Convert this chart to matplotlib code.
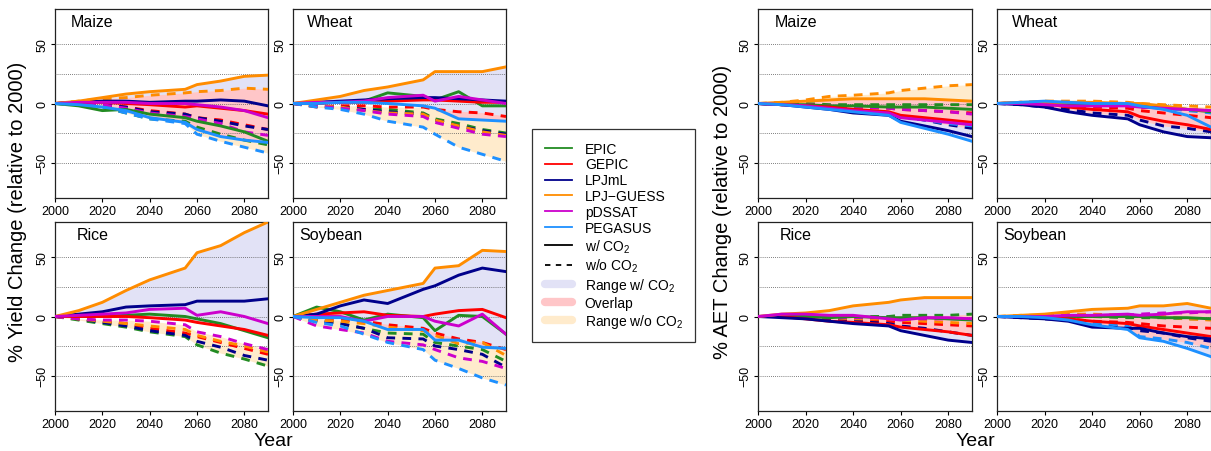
import matplotlib
matplotlib.use('Agg')
import matplotlib.pyplot as plt
from matplotlib.lines import Line2D
import numpy as np

plt.rcParams['font.family'] = ['Liberation Sans', 'DejaVu Sans']
plt.rcParams['mathtext.fontset'] = 'custom'
plt.rcParams['mathtext.rm'] = 'Liberation Sans'
plt.rcParams['mathtext.default'] = 'regular'

years = [2000, 2010, 2020, 2030, 2040, 2055, 2060, 2070, 2080, 2090]
models = ['EPIC', 'GEPIC', 'LPJmL', 'LPJ-GUESS', 'pDSSAT', 'PEGASUS']
colors = {'EPIC': '#228B22', 'GEPIC': '#FF0000', 'LPJmL': '#00008B',
          'LPJ-GUESS': '#FF8C00', 'pDSSAT': '#CC00CC', 'PEGASUS': '#1E90FF'}

# ---- yield, with CO2 / without CO2 ----
yield_maize_w = {
    'EPIC':      [0, -2, -6, -5, -9, -12, -15, -19, -24, -32],
    'GEPIC':     [0, 1, 1, 0, -1, -3, -2, -4, -6, -9],
    'LPJmL':     [0, 1, 2, 2, 1, 2, 2, 3, 2, -2],
    'LPJ-GUESS': [0, 2, 5, 8, 10, 12, 16, 19, 23, 24],
    'pDSSAT':    [0, 1, 1, 1, 0, 0, -1, -3, -6, -12],
    'PEGASUS':   [0, -1, -3, -6, -12, -16, -22, -28, -31, -33]}
yield_maize_wo = {
    'EPIC':      [0, -1, -3, -8, -13, -15, -20, -26, -31, -35],
    'GEPIC':     [0, 0, -1, -3, -6, -9, -12, -14, -18, -22],
    'LPJmL':     [0, 0, -1, -3, -7, -9, -12, -15, -19, -22],
    'LPJ-GUESS': [0, 2, 4, 5, 7, 9, 10, 11, 13, 12],
    'pDSSAT':    [0, 0, -1, -4, -8, -11, -13, -17, -24, -27],
    'PEGASUS':   [0, -1, -3, -8, -13, -17, -26, -32, -37, -42]}

yield_wheat_w = {
    'EPIC':      [0, 1, 1, 2, 9, 6, 3, 10, -2, -2],
    'GEPIC':     [0, 0, 1, 1, 2, 3, 3, 2, 1, 1],
    'LPJmL':     [0, 1, 2, 3, 4, 5, 5, 4, 3, 2],
    'LPJ-GUESS': [0, 3, 6, 11, 14, 20, 27, 27, 27, 31],
    'pDSSAT':    [0, 1, 1, 2, 5, 7, 2, 6, 3, 0],
    'PEGASUS':   [0, 0, 1, 1, 0, -2, -4, -13, -14, -15]}
yield_wheat_wo = {
    'EPIC':      [0, -2, -3, -5, -5, -8, -13, -17, -22, -25],
    'GEPIC':     [0, -3, -2, -2, -3, -3, -5, -7, -8, -11],
    'LPJmL':     [0, -2, -3, -5, -7, -9, -14, -19, -23, -26],
    'LPJ-GUESS': [0, -2, -3, -6, -8, -9, -14, -19, -24, -27],
    'pDSSAT':    [0, -2, -4, -6, -9, -11, -16, -21, -26, -28],
    'PEGASUS':   [0, -3, -5, -9, -15, -20, -26, -37, -43, -49]}

yield_rice_w = {
    'EPIC':      [0, 0, 0, 1, 2, 0, -2, -6, -12, -18],
    'GEPIC':     [0, 0, 0, 0, -1, -3, -5, -8, -11, -16],
    'LPJmL':     [0, 2, 4, 8, 9, 10, 13, 13, 13, 15],
    'LPJ-GUESS': [0, 5, 12, 22, 31, 41, 54, 60, 71, 80],
    'pDSSAT':    [0, 1, 2, 3, 6, 7, 1, 4, 0, -6]}
yield_rice_wo = {
    'EPIC':      [0, -3, -6, -9, -13, -17, -24, -31, -36, -42],
    'GEPIC':     [0, -2, -4, -6, -10, -14, -17, -22, -27, -32],
    'LPJmL':     [0, -2, -5, -8, -12, -16, -21, -26, -33, -37],
    'LPJ-GUESS': [0, -2, -4, -6, -8, -11, -16, -21, -25, -30],
    'pDSSAT':    [0, -2, -3, -3, -4, -7, -13, -17, -23, -28]}

yield_soy_w = {
    'EPIC':      [0, 8, 4, -3, 2, -1, -12, 1, 0, -15],
    'GEPIC':     [0, 2, 3, 4, 1, 0, 2, 5, 6, -1],
    'LPJmL':     [0, 2, 9, 14, 11, 23, 26, 35, 41, 38],
    'LPJ-GUESS': [0, 6, 12, 18, 22, 28, 41, 43, 56, 55],
    'pDSSAT':    [0, 0, 0, -4, 0, 0, -4, -8, 2, -15],
    'PEGASUS':   [0, -1, -1, -4, -11, -11, -20, -20, -26, -27]}
yield_soy_wo = {
    'EPIC':      [0, -3, -6, -10, -14, -15, -22, -25, -28, -38],
    'GEPIC':     [0, -2, -3, -4, -7, -10, -14, -19, -22, -28],
    'LPJmL':     [0, -4, -6, -10, -18, -19, -25, -28, -32, -43],
    'LPJ-GUESS': [0, -3, -4, -6, -9, -12, -16, -23, -22, -33],
    'pDSSAT':    [0, -8, -11, -14, -21, -24, -28, -35, -38, -44],
    'PEGASUS':   [0, -5, -8, -15, -22, -28, -37, -44, -52, -58]}

# ---- AET ----
aet_maize_w = {
    'EPIC':      [0, -1, -1, -2, -2, -3, -3, -3, -4, -5],
    'GEPIC':     [0, -1, -2, -3, -5, -7, -10, -12, -14, -16],
    'LPJmL':     [0, -1, -3, -5, -8, -10, -15, -19, -23, -28],
    'LPJ-GUESS': [0, 1, 2, 3, 4, 4, 4, 4, 3, 2],
    'pDSSAT':    [0, -1, -2, -4, -6, -8, -12, -14, -16, -18],
    'PEGASUS':   [0, -1, -3, -5, -7, -10, -16, -21, -26, -32]}
aet_maize_wo = {
    'EPIC':      [0, 0, 0, -1, -1, -1, -1, -1, -1, -1],
    'GEPIC':     [0, 0, -1, -2, -3, -4, -5, -6, -7, -8],
    'LPJmL':     [0, -1, -2, -4, -6, -8, -11, -14, -18, -21],
    'LPJ-GUESS': [0, 1, 3, 6, 7, 9, 11, 13, 15, 16],
    'pDSSAT':    [0, 0, -1, -2, -3, -4, -5, -6, -7, -9],
    'PEGASUS':   [0, -1, -2, -4, -6, -8, -11, -14, -17, -19]}

aet_wheat_w = {
    'EPIC':      [0, 0, 0, 0, 0, -1, -2, -3, -5, -7],
    'GEPIC':     [0, 1, 0, -3, -5, -7, -11, -15, -18, -22],
    'LPJmL':     [0, -1, -3, -7, -10, -13, -18, -24, -28, -29],
    'LPJ-GUESS': [0, 1, 1, 1, 1, 0, 0, -2, -5, -6],
    'pDSSAT':    [0, 0, -1, -2, -2, -2, -3, -4, -5, -6],
    'PEGASUS':   [0, 1, 2, 1, 0, 0, -2, -5, -10, -20]}
aet_wheat_wo = {
    'EPIC':      [0, 0, 0, -1, -1, -2, -3, -4, -5, -6],
    'GEPIC':     [0, 0, -1, -2, -3, -4, -6, -8, -10, -12],
    'LPJmL':     [0, -1, -3, -5, -8, -10, -14, -19, -21, -24],
    'LPJ-GUESS': [0, 1, 2, 2, 2, 1, 0, -1, -2, -3],
    'pDSSAT':    [0, 0, -1, -1, -2, -2, -3, -4, -5, -6],
    'PEGASUS':   [0, 0, 1, 1, 0, 0, -2, -4, -6, -8]}

aet_rice_w = {
    'EPIC':      [0, 1, 0, -1, 0, -1, -1, -1, -2, -3],
    'GEPIC':     [0, 0, -2, -4, -5, -7, -9, -11, -13, -16],
    'LPJmL':     [0, -1, -2, -4, -6, -8, -12, -16, -20, -22],
    'LPJ-GUESS': [0, 2, 3, 5, 9, 12, 14, 16, 16, 16],
    'pDSSAT':    [0, 2, 2, 1, 1, -2, -3, -1, -1, -2]}
aet_rice_wo = {
    'EPIC':      [0, 0, 0, 0, 0, 0, 1, 1, 1, 2],
    'GEPIC':     [0, 0, -1, -2, -3, -4, -5, -6, -7, -8],
    'LPJmL':     [0, 0, -1, -2, -4, -6, -8, -10, -13, -16],
    'LPJ-GUESS': [0, 0, -1, -1, -2, -2, -3, -4, -5, -6],
    'pDSSAT':    [0, 0, 0, -1, -1, -1, -2, -2, -2, -2]}

aet_soy_w = {
    'EPIC':      [0, 0, 0, 0, 0, 0, 0, -1, -1, -2],
    'GEPIC':     [0, 0, -1, -2, -4, -6, -8, -11, -14, -17],
    'LPJmL':     [0, -1, -2, -4, -9, -10, -10, -14, -17, -19],
    'LPJ-GUESS': [0, 1, 2, 4, 6, 7, 9, 9, 11, 7],
    'pDSSAT':    [0, 0, 0, 1, 1, 2, 1, 2, 4, 4],
    'PEGASUS':   [0, 0, -1, -3, -7, -11, -18, -21, -27, -34]}
aet_soy_wo = {
    'EPIC':      [0, 0, 0, 0, 0, -1, -1, -1, -2, -2],
    'GEPIC':     [0, 0, -1, -2, -4, -5, -6, -8, -9, -10],
    'LPJmL':     [0, -1, -2, -3, -7, -9, -12, -14, -18, -21],
    'LPJ-GUESS': [0, 1, 1, 2, 2, 1, 1, 0, -2, -3],
    'pDSSAT':    [0, 0, 0, 1, 1, 1, 2, 3, 3, 4],
    'PEGASUS':   [0, 0, -1, -2, -5, -8, -17, -19, -22, -27]}

c_range_w = '#e2e2f6'
c_range_wo = '#ffebcc'
c_overlap = '#ffc6c8'

fig = plt.figure(figsize=(12.11, 4.52), dpi=100)
W, H = 1211., 452.


def panel(x0, y0, w, h, title, dw, dwo):
    ax = fig.add_axes([x0 / W, 1 - (y0 + h) / H, w / W, h / H])
    x = np.array(years)
    w_arr = np.array([dw[m] for m in dw], dtype=float)
    wo_arr = np.array([dwo[m] for m in dwo], dtype=float)
    lo1, hi1 = w_arr.min(0), w_arr.max(0)
    lo2, hi2 = wo_arr.min(0), wo_arr.max(0)
    ax.fill_between(x, lo1, hi1, color=c_range_w, lw=0, zorder=1)
    ax.fill_between(x, lo2, hi2, color=c_range_wo, lw=0, zorder=1)
    olo = np.maximum(lo1, lo2)
    ohi = np.minimum(hi1, hi2)
    ax.fill_between(x, olo, ohi, where=ohi >= olo, interpolate=True,
                    color=c_overlap, lw=0, zorder=2)
    for yv in [-50, -25, 0, 25, 50]:
        ax.axhline(yv, color='#555555', lw=0.6, ls=(0, (1, 1.5)), zorder=3)
    for m in dwo:
        ax.plot(x, dwo[m], color=colors[m], lw=2.1, dashes=(3, 2.5),
                zorder=4)
    for m in dw:
        ax.plot(x, dw[m], color=colors[m], lw=2.1, zorder=5)
    ax.set_xlim(2000, 2090)
    ax.set_ylim(-80, 80)
    ax.set_xticks([2000, 2020, 2040, 2060, 2080])
    ax.set_yticks([-50, 0, 50])
    ax.tick_params(axis='both', direction='out', length=3, width=0.8,
                   labelsize=9, pad=2)
    for lab in ax.get_yticklabels():
        lab.set_rotation(90)
        lab.set_va('center')
    for s in ax.spines.values():
        s.set_linewidth(0.9)
        s.set_color('#222222')
    ax.text(0.176, 0.935, title, transform=ax.transAxes, ha='center',
            va='center', fontsize=11.5)
    return ax


left_x = [55, 293]
right_x = [758, 997]
rows_y = [10, 223]
pw, ph = 213, 189

panel(left_x[0], rows_y[0], pw, ph, 'Maize', yield_maize_w, yield_maize_wo)
panel(left_x[1], rows_y[0], pw, ph, 'Wheat', yield_wheat_w, yield_wheat_wo)
panel(left_x[0], rows_y[1], pw, ph, 'Rice', yield_rice_w, yield_rice_wo)
panel(left_x[1], rows_y[1], pw, ph, 'Soybean', yield_soy_w, yield_soy_wo)

panel(right_x[0], rows_y[0], 214, ph, 'Maize', aet_maize_w, aet_maize_wo)
panel(right_x[1], rows_y[0], 214, ph, 'Wheat', aet_wheat_w, aet_wheat_wo)
panel(right_x[0], rows_y[1], 214, ph, 'Rice', aet_rice_w, aet_rice_wo)
panel(right_x[1], rows_y[1], 214, ph, 'Soybean', aet_soy_w, aet_soy_wo)

fig.text(18 / W, 1 - 212 / H, '% Yield Change (relative to 2000)',
         rotation=90, ha='center', va='center', fontsize=14.5)
fig.text(722 / W, 1 - 212 / H, '% AET Change (relative to 2000)',
         rotation=90, ha='center', va='center', fontsize=14.5)
fig.text(273 / W, 1 - 442 / H, 'Year', ha='center', va='center', fontsize=14)
fig.text(975 / W, 1 - 442 / H, 'Year', ha='center', va='center', fontsize=14)

handles = [Line2D([], [], color=colors[m], lw=1.3) for m in models]
handles += [Line2D([], [], color='black', lw=1.3),
            Line2D([], [], color='black', lw=1.3, dashes=(3, 3)),
            Line2D([], [], color=c_range_w, lw=6, solid_capstyle='round'),
            Line2D([], [], color=c_overlap, lw=6, solid_capstyle='round'),
            Line2D([], [], color=c_range_wo, lw=6, solid_capstyle='round')]
labels = ['EPIC', 'GEPIC', 'LPJmL', 'LPJ\u2212GUESS', 'pDSSAT', 'PEGASUS',
          'w/ CO$_2$', 'w/o CO$_2$', 'Range w/ CO$_2$', 'Overlap',
          'Range w/o CO$_2$']
leg = fig.legend(handles, labels, loc='upper left',
                 bbox_to_anchor=(532 / W, 1 - 130 / H), fontsize=10,
                 frameon=True, fancybox=False, edgecolor='black',
                 handlelength=2.0, handletextpad=0.9, labelspacing=0.14,
                 borderpad=0.9, borderaxespad=0)
leg.get_frame().set_linewidth(0.9)

fig.savefig('out.png', dpi=100)
